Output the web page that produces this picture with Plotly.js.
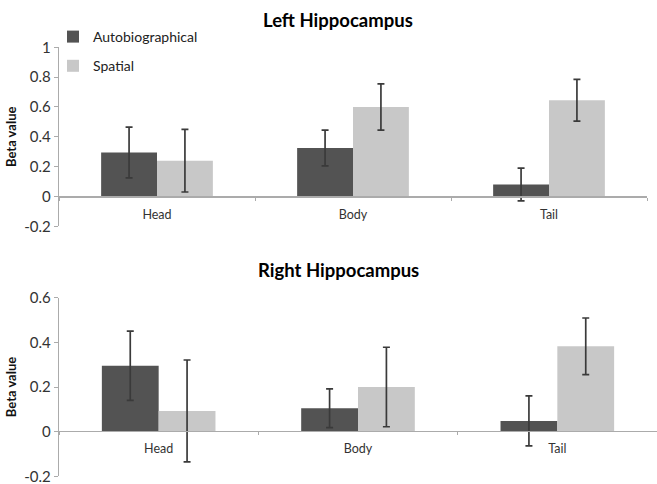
<!DOCTYPE html>
<html>
<head>
<meta charset="utf-8">
<script src="https://cdn.plot.ly/plotly-3.0.1.min.js"></script>
<style>html,body{margin:0;padding:0;background:#fff;}#chart{width:657px;height:484px;}</style>
</head>
<body>
<div id="chart"></div>
<script>
const categories = ['Head', 'Body', 'Tail'];
const seriesNames = ['Autobiographical', 'Spatial'];

const leftAuto = [0.295, 0.325, 0.08];
const leftAutoErr = [0.17, 0.12, 0.11];
const leftSpatial = [0.24, 0.60, 0.645];
const leftSpatialErr = [0.21, 0.155, 0.14];

const rightAuto = [0.295, 0.105, 0.048];
const rightAutoErr = [0.155, 0.087, 0.112];
const rightSpatial = [0.093, 0.20, 0.382];
const rightSpatialErr = [0.228, 0.178, 0.127];

const topTickVals = [-0.2, 0, 0.2, 0.4, 0.6, 0.8, 1];
const topTickText = ['-0.2', '0', '0.2', '0.4', '0.6', '0.8', '1'];
const botTickVals = [-0.2, 0, 0.2, 0.4, 0.6];
const botTickText = ['-0.2', '0', '0.2', '0.4', '0.6'];

const titles = ['Left Hippocampus', 'Right Hippocampus'];
const yTitle = 'Beta value';

const darkCol = '#535353';
const lightCol = '#c8c8c8';
const errCol = '#3a3a3a';
const axisCol = '#ababab';
const FONT = 'Lato, "Open Sans", sans-serif';

function bar(name, y, err, color, xa, ya, show) {
  return {
    type: 'bar', name: name, x: categories, y: y,
    xaxis: xa, yaxis: ya, showlegend: show, legendgroup: name,
    marker: {color: color, line: {width: 0}},
    error_y: {type: 'data', array: err, visible: true, color: errCol, thickness: 1.7, width: 3.5}
  };
}

const data = [
  bar(seriesNames[0], leftAuto, leftAutoErr, darkCol, 'x', 'y', true),
  bar(seriesNames[1], leftSpatial, leftSpatialErr, lightCol, 'x', 'y', true),
  bar(seriesNames[0], rightAuto, rightAutoErr, darkCol, 'x2', 'y2', false),
  bar(seriesNames[1], rightSpatial, rightSpatialErr, lightCol, 'x2', 'y2', false)
];

const W = 657, H = 484;
const topY = {lo: 226.3, hi: 47.3, zero: 196.3};
const botY = {lo: 476.3, hi: 297.7, zero: 431};

function xAxis(domEnd, zeroPx) {
  return {
    type: 'category', domain: [59 / W, domEnd], anchor: 'free', position: 1 - zeroPx / H,
    showline: true, linecolor: axisCol, linewidth: 1.2,
    ticks: 'outside', tickson: 'boundaries', ticklen: 3, tickcolor: axisCol,
    ticklabelstandoff: 6,
    showgrid: false, zeroline: false,
    tickfont: {family: FONT, size: 12.5, color: '#333'}, fixedrange: true
  };
}
function yAxis(yr, vals, text, range) {
  return {
    domain: [1 - yr.lo / H, 1 - yr.hi / H], range: range, anchor: 'x',
    showline: true, linecolor: axisCol, linewidth: 1.2,
    ticks: 'outside', ticklen: 4, tickcolor: axisCol,
    tickvals: vals, ticktext: text, ticklabeloverflow: 'allow',
    showgrid: false, zeroline: false,
    tickfont: {family: FONT, size: 15, color: '#333'},
    title: {text: yTitle, font: {family: FONT, size: 13, color: '#111', weight: 'bold'}, standoff: 4},
    fixedrange: true
  };
}

const layout = {
  width: W, height: H,
  margin: {l: 0, r: 0, t: 0, b: 0},
  paper_bgcolor: '#fff', plot_bgcolor: 'rgba(0,0,0,0)',
  barmode: 'group', bargap: 0.43, bargroupgap: 0,
  font: {family: FONT, color: '#222'},
  xaxis: xAxis(647 / W, topY.zero),
  yaxis: yAxis(topY, topTickVals, topTickText, [-0.2, 1]),
  xaxis2: xAxis(1, botY.zero),
  yaxis2: Object.assign(yAxis(botY, botTickVals, botTickText, [-0.2, 0.6]), {anchor: 'x2'}),
  legend: {
    x: 53 / W, y: 1 - 21 / H, xanchor: 'left', yanchor: 'top',
    bgcolor: 'rgba(0,0,0,0)', borderwidth: 0,
    font: {family: FONT, size: 14, color: '#222'},
    tracegroupgap: 8, itemwidth: 30
  },
  annotations: [
    {text: '<b>' + titles[0] + '</b>', xref: 'paper', yref: 'paper', x: 338 / W, y: 1 - 20 / H,
     xanchor: 'center', yanchor: 'middle', showarrow: false, font: {family: FONT, size: 18.5, color: '#000'}},
    {text: '<b>' + titles[1] + '</b>', xref: 'paper', yref: 'paper', x: 338 / W, y: 1 - 270 / H,
     xanchor: 'center', yanchor: 'middle', showarrow: false, font: {family: FONT, size: 18.5, color: '#000'}}
  ]
};

Plotly.newPlot('chart', data, layout, {displayModeBar: false, staticPlot: true});
</script>
</body>
</html>
